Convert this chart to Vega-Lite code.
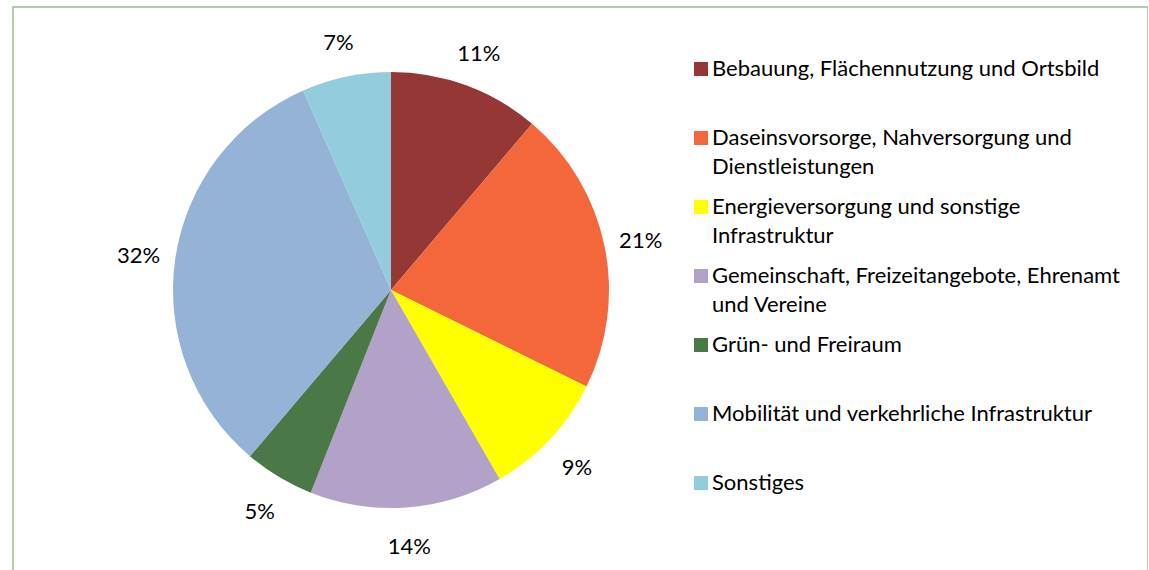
{
  "$schema": "https://vega.github.io/schema/vega-lite/v6.json",
  "autosize": "none",
  "width": 1135,
  "height": 600,
  "padding": {"left": 13, "top": 7, "right": 0, "bottom": 0},
  "background": "white",
  "view": {"stroke": "#9FBA8A", "strokeWidth": 1.5, "fill": "white"},
  "config": {
    "view": {"stroke": "#9FBA8A", "strokeWidth": 1.5},
    "font": "Lato",
    "style": {"guide-label": {"lineHeight": 29}}
  },
  "data": {
    "values": [
      {"category": "Bebauung, Flächennutzung und Ortsbild", "share": 0.112},
      {"category": "Daseinsvorsorge, Nahversorgung und Dienstleistungen", "share": 0.211},
      {"category": "Energieversorgung und sonstige Infrastruktur", "share": 0.094},
      {"category": "Gemeinschaft, Freizeitangebote, Ehrenamt und Vereine", "share": 0.143},
      {"category": "Grün- und Freiraum", "share": 0.052},
      {"category": "Mobilität und verkehrliche Infrastruktur", "share": 0.322},
      {"category": "Sonstiges", "share": 0.066}
    ]
  },
  "encoding": {
    "theta": {"field": "share", "type": "quantitative", "stack": true},
    "order": {"field": "category", "type": "nominal", "sort": "ascending"}
  },
  "layer": [
    {
      "mark": {"type": "arc", "outerRadius": 218, "x": 378, "y": 283, "stroke": null},
      "encoding": {
        "color": {
          "field": "category",
          "type": "nominal",
          "scale": {
            "domain": [
              "Bebauung, Flächennutzung und Ortsbild",
              "Daseinsvorsorge, Nahversorgung und Dienstleistungen",
              "Energieversorgung und sonstige Infrastruktur",
              "Gemeinschaft, Freizeitangebote, Ehrenamt und Vereine",
              "Grün- und Freiraum",
              "Mobilität und verkehrliche Infrastruktur",
              "Sonstiges"
            ],
            "range": ["#953735", "#F4673B", "#FFFF00", "#B3A2C7", "#4A7846", "#95B3D7", "#93CDDD"]
          },
          "legend": {
            "title": null,
            "orient": "none",
            "legendX": 677,
            "legendY": 51,
            "padding": 0,
            "direction": "vertical",
            "gridAlign": "all",
            "rowPadding": 18,
            "symbolType": "square",
            "symbolSize": 196,
            "symbolStrokeWidth": 0,
            "labelFont": "Lato",
            "labelFontSize": 22,
            "labelColor": "#000000",
            "labelLimit": 0,
            "labelOffset": 0,
            "labelExpr": "datum.label == 'Daseinsvorsorge, Nahversorgung und Dienstleistungen' ? ['Daseinsvorsorge, Nahversorgung und', 'Dienstleistungen'] : datum.label == 'Energieversorgung und sonstige Infrastruktur' ? ['Energieversorgung und sonstige', 'Infrastruktur'] : datum.label == 'Gemeinschaft, Freizeitangebote, Ehrenamt und Vereine' ? ['Gemeinschaft, Freizeitangebote, Ehrenamt', 'und Vereine'] : datum.label"
          }
        }
      }
    },
    {
      "mark": {"type": "text", "radius": 255, "x": 378, "y": 283, "dy": 3, "fontSize": 22, "font": "Lato", "color": "#000000", "align": "center", "baseline": "middle"},
      "encoding": {
        "text": {"field": "share", "type": "quantitative", "format": ".0%"}
      }
    }
  ]
}
